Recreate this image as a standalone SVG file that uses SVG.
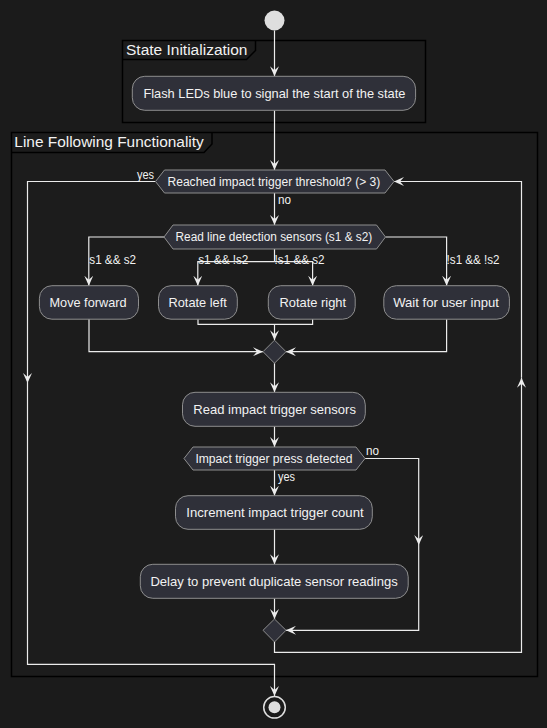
<svg xmlns="http://www.w3.org/2000/svg" width="547" height="728" viewBox="0 0 547 728">
<defs>
<style>
.bg{fill:#1b1b1b}
.frame{fill:#1c1c1c;stroke:#000;stroke-width:1.5}
.tab{fill:none;stroke:#000;stroke-width:1.5}
.ttl{font-family:"Liberation Sans","DejaVu Sans",sans-serif;font-size:15.5px;fill:#f2f2f2}
.act{fill:#2f3039;stroke:#8e8e8e;stroke-width:1}
.atx{font-family:"Liberation Sans","DejaVu Sans",sans-serif;font-size:13px;fill:#f2f2f2;text-anchor:start}
.dtx{font-family:"Liberation Sans","DejaVu Sans",sans-serif;font-size:12px;fill:#f2f2f2}
.lbl{font-family:"Liberation Sans","DejaVu Sans",sans-serif;font-size:12px;fill:#f2f2f2}
.ln{fill:none;stroke:#ececec;stroke-width:1.2}
.ar{fill:none;stroke:#ececec;stroke-width:1.2;marker-end:url(#arr)}
</style>
<marker id="arr" viewBox="0 0 10 9" refX="10" refY="4.5" markerWidth="10" markerHeight="9" markerUnits="userSpaceOnUse" orient="auto">
<path d="M0,0 L10,4.5 L0,9 L4,4.5 Z" fill="#ececec"/>
</marker>
</defs>
<rect class="bg" x="0" y="0" width="547" height="728"/>

<g id="frame-init">
<rect class="frame" x="122.5" y="40.5" width="303" height="82"/>
<path class="tab" d="M122.5,59.5 L246.5,59.5 L255.5,50.5 L255.5,40.5"/>
<text class="ttl" x="126" y="55" textLength="121.5" lengthAdjust="spacingAndGlyphs">State Initialization</text>
</g>
<g id="frame-line">
<rect class="frame" x="11.5" y="132.5" width="526" height="544"/>
<path class="tab" d="M11.5,152.5 L204,152.5 L212,144 L212,132.5"/>
<text class="ttl" x="14.3" y="146.7" textLength="189.5" lengthAdjust="spacingAndGlyphs">Line Following Functionality</text>
</g>

<g id="connectors">
<path class="ar" d="M274.5,30.5 V76.3"/>
<path class="ar" d="M274.5,110.3 V170"/>
<path class="ar" d="M274.5,193 V225"/>
<path class="ar" d="M155.5,181.5 H27.5 V383"/>
<path class="ar" d="M27.5,383 V664.3 H274.5 V696"/>
<path class="ar" d="M164,237 H88.8 V285.7"/>
<path class="ln" d="M274.5,249 V261.7"/>
<path class="ar" d="M274.5,261.7 H197.8 V285.7"/>
<path class="ar" d="M274.5,261.7 H312.6 V285.7"/>
<path class="ar" d="M385.5,237 H446.6 V285.7"/>
<path class="ar" d="M89,319 V351.7 H263"/>
<path class="ln" d="M198,319 V324.3 H312.6 V319"/>
<path class="ar" d="M274.5,324.3 V340.2"/>
<path class="ar" d="M446.6,319 V351.7 H286"/>
<path class="ar" d="M274.5,363.2 V392.3"/>
<path class="ar" d="M274.5,426.3 V447"/>
<path class="ar" d="M274.5,470 V495.7"/>
<path class="ar" d="M365,458.5 H418.7 V545"/>
<path class="ar" d="M418.7,545 V630.3 H286"/>
<path class="ar" d="M274.5,529.3 V564.3"/>
<path class="ar" d="M274.5,598.3 V619"/>
<path class="ar" d="M274.5,642 V652.3 H521.5 V377.7"/>
<path class="ar" d="M521.5,377.7 V181.5 H394"/>
<text class="lbl" x="137" y="178.5" textLength="17" lengthAdjust="spacingAndGlyphs">yes</text>
<text class="lbl" x="278" y="204" textLength="13" lengthAdjust="spacingAndGlyphs">no</text>
<text class="lbl" x="89.3" y="264.3" textLength="46.7" lengthAdjust="spacingAndGlyphs">s1 &amp;&amp; s2</text>
<text class="lbl" x="198.2" y="264.3" textLength="50.2" lengthAdjust="spacingAndGlyphs">s1 &amp;&amp; !s2</text>
<text class="lbl" x="274.6" y="264.3" textLength="49.9" lengthAdjust="spacingAndGlyphs">!s1 &amp;&amp; s2</text>
<text class="lbl" x="446.6" y="264.3" textLength="53" lengthAdjust="spacingAndGlyphs">!s1 &amp;&amp; !s2</text>
<text class="lbl" x="366" y="455" textLength="13" lengthAdjust="spacingAndGlyphs">no</text>
<text class="lbl" x="278" y="480.7" textLength="17" lengthAdjust="spacingAndGlyphs">yes</text>
</g>

<g id="start"><circle cx="274.5" cy="20.5" r="10" fill="#dedede"/></g>

<g id="flash">
<rect class="act" x="132.3" y="76.3" width="283.3" height="34" rx="12.5"/>
<text class="atx" x="143.4" y="97.7" textLength="262" lengthAdjust="spacingAndGlyphs">Flash LEDs blue to signal the start of the state</text>
</g>

<g id="dec-threshold">
<polygon class="act" points="155.5,181.5 164.5,170 385,170 394,181.5 385,193 164.5,193"/>
<text class="dtx" x="167.5" y="185.7" textLength="212.8" lengthAdjust="spacingAndGlyphs">Reached impact trigger threshold? (&gt; 3)</text>
</g>

<g id="dec-sensors">
<polygon class="act" points="164,237 173,225 376.5,225 385.5,237 376.5,249 173,249"/>
<text class="dtx" x="175.5" y="241.2" textLength="196.8" lengthAdjust="spacingAndGlyphs">Read line detection sensors (s1 &amp; s2)</text>
</g>

<g id="move-forward">
<rect class="act" x="39.4" y="285.7" width="99.1" height="33.5" rx="12.5"/>
<text class="atx" x="49.5" y="307" textLength="77" lengthAdjust="spacingAndGlyphs">Move forward</text>
</g>
<g id="rotate-left">
<rect class="act" x="158.5" y="285.7" width="78.8" height="33.5" rx="12.5"/>
<text class="atx" x="168.5" y="307" textLength="58.3" lengthAdjust="spacingAndGlyphs">Rotate left</text>
</g>
<g id="rotate-right">
<rect class="act" x="268.3" y="285.7" width="86.9" height="33.5" rx="12.5"/>
<text class="atx" x="279.5" y="307" textLength="66.6" lengthAdjust="spacingAndGlyphs">Rotate right</text>
</g>
<g id="wait-input">
<rect class="act" x="383.8" y="285.7" width="125.6" height="33.5" rx="12.5"/>
<text class="atx" x="393.2" y="307" textLength="105.8" lengthAdjust="spacingAndGlyphs">Wait for user input</text>
</g>

<g id="merge1"><polygon class="act" points="274.5,340.2 286,351.7 274.5,363.2 263,351.7"/></g>

<g id="read-impact">
<rect class="act" x="182.5" y="392.3" width="182.8" height="34" rx="12.5"/>
<text class="atx" x="193.3" y="413.6" textLength="162.6" lengthAdjust="spacingAndGlyphs">Read impact trigger sensors</text>
</g>

<g id="dec-press">
<polygon class="act" points="184,458.5 193,447 356,447 365,458.5 356,470 193,470"/>
<text class="dtx" x="195.4" y="462.8" textLength="157" lengthAdjust="spacingAndGlyphs">Impact trigger press detected</text>
</g>

<g id="increment">
<rect class="act" x="175.5" y="495.7" width="196.8" height="33.6" rx="12.5"/>
<text class="atx" x="186.3" y="517" textLength="177.3" lengthAdjust="spacingAndGlyphs">Increment impact trigger count</text>
</g>

<g id="delay">
<rect class="act" x="140.3" y="564.3" width="267.9" height="34" rx="12.5"/>
<text class="atx" x="150.4" y="585.9" textLength="247.4" lengthAdjust="spacingAndGlyphs">Delay to prevent duplicate sensor readings</text>
</g>

<g id="merge2"><polygon class="act" points="274.5,619 286,630.3 274.5,642 263,630.3"/></g>

<g id="end">
<circle cx="274.5" cy="707.3" r="10.8" fill="none" stroke="#dedede" stroke-width="1.5"/>
<circle cx="274.5" cy="707.3" r="6" fill="#dedede"/>
</g>
</svg>
